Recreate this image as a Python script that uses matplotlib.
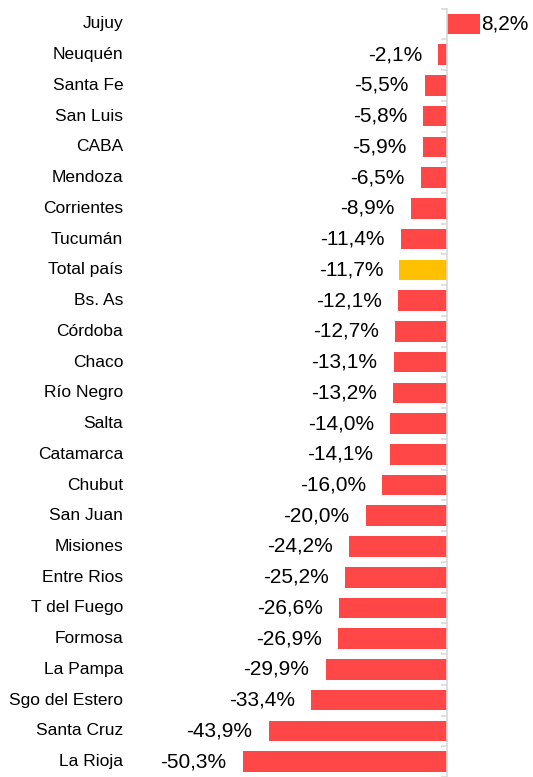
import matplotlib.pyplot as plt
import numpy as np

plt.rcParams['font.family'] = ['Liberation Sans', 'DejaVu Sans']

provincias = ['Jujuy', 'Neuquén', 'Santa Fe', 'San Luis', 'CABA', 'Mendoza',
              'Corrientes', 'Tucumán', 'Total país', 'Bs. As', 'Córdoba', 'Chaco',
              'Río Negro', 'Salta', 'Catamarca', 'Chubut', 'San Juan', 'Misiones',
              'Entre Rios', 'T del Fuego', 'Formosa', 'La Pampa', 'Sgo del Estero',
              'Santa Cruz', 'La Rioja']
variacion = [8.2, -2.1, -5.5, -5.8, -5.9, -6.5, -8.9, -11.4, -11.7, -12.1, -12.7,
             -13.1, -13.2, -14.0, -14.1, -16.0, -20.0, -24.2, -25.2, -26.6, -26.9,
             -29.9, -33.4, -43.9, -50.3]

rojo = '#FF4747'
amarillo = '#FFC000'
colores = [amarillo if p == 'Total país' else rojo for p in provincias]

fig = plt.figure(figsize=(5.33, 7.77), dpi=100)
ax = fig.add_axes([130 / 533, 0, 1 - 130 / 533, (777 - 8.6) / 777])

y = np.arange(len(provincias))
ax.barh(y, variacion, height=0.67, color=colores)
ax.set_xlim(-78.1, 21.2)
ax.set_ylim(24.4, -0.5)

# etiquetas de valores
for yi, v in zip(y, variacion):
    txt = f'{v:.1f}%'.replace('.', ',')
    if v >= 0:
        ax.text(v + 0.2, yi, txt, va='center', ha='left', fontsize=15)
    else:
        ax.text(v - 4.0, yi, txt, va='center', ha='right', fontsize=15)

# nombres de provincias
for yi, p in zip(y, provincias):
    ax.text(-0.017, yi, p, transform=ax.get_yaxis_transform(), va='center',
            ha='right', fontsize=12.5, clip_on=False)

# eje vertical en cero
for s in ['top', 'right', 'bottom']:
    ax.spines[s].set_visible(False)
ax.spines['left'].set_position(('data', 0))
ax.spines['left'].set_color('#D9D9D9')
ax.spines['left'].set_linewidth(1.2)
ax.set_yticks(np.arange(-0.5, len(provincias), 1))
ax.set_yticklabels([])
ax.tick_params(axis='y', length=4, color='#D9D9D9', width=1.2)
ax.set_xticks([])

fig.savefig('out.png', dpi=100)
